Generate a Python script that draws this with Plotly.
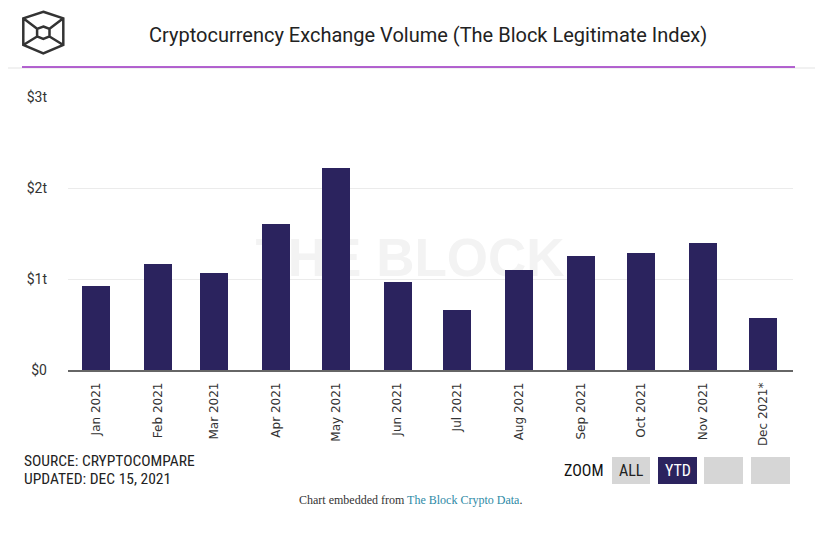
import plotly.graph_objects as go

# ---- data ----
months = ["2021-01-01", "2021-02-01", "2021-03-01", "2021-04-01", "2021-05-01", "2021-06-01",
          "2021-07-01", "2021-08-01", "2021-09-01", "2021-10-01", "2021-11-01", "2021-12-01"]
month_labels = ["Jan 2021", "Feb 2021", "Mar 2021", "Apr 2021", "May 2021", "Jun 2021",
                "Jul 2021", "Aug 2021", "Sep 2021", "Oct 2021", "Nov 2021", "Dec 2021*"]
volume_trillions = [0.92, 1.16, 1.07, 1.60, 2.22, 0.97, 0.66, 1.095, 1.25, 1.29, 1.40, 0.573]
y_tick_vals = [0, 1, 2, 3]
y_tick_text = ["$0", "$1t", "$2t", "$3t"]

OFF = 8  # default page body margin
W, H = 830 - OFF, 535 - OFF
ML, MR, MT, MB = 68 - OFF, 37, 97 - OFF, 165
PW, PH = W - ML - MR, H - MT - MB


def px(x):
    return (x - OFF - ML) / PW


def py(y):
    return 1 - (y - OFF - MT) / PH


fig = go.Figure()
fig.add_trace(go.Bar(
    x=months, y=volume_trillions,
    width=14 * 86400000,
    marker=dict(color="#2b235e", line=dict(width=0)),
    hoverinfo="x+y",
))

shapes = []
# header lines
shapes.append(dict(type="line", xref="paper", yref="paper", x0=px(8), x1=px(815), y0=py(68), y1=py(68),
                   line=dict(color="#e3e3e3", width=1)))
shapes.append(dict(type="line", xref="paper", yref="paper", x0=px(22), x1=px(795), y0=py(67), y1=py(67),
                   line=dict(color="#9a2fc0", width=1.5)))

# logo (cube)
def pt(x, y):
    return f"{px(x):.5f},{py(y):.5f}"

outer = [(43.3, 11.7), (63.3, 18.3), (63.3, 45), (43.3, 53.3), (23.3, 45), (23.3, 18.3)]
inner = [(43.3, 26.5), (49.5, 28.8), (49.5, 36.5), (43.3, 38.8), (37.1, 36.5), (37.1, 28.8)]
path = "M" + " L".join(pt(*p) for p in outer) + " Z"
path += " M" + " L".join(pt(*p) for p in inner) + " Z"
for o, i in [(5, 5), (1, 1), (4, 4), (2, 2)]:
    path += f" M{pt(*outer[o])} L{pt(*inner[i])}"
shapes.append(dict(type="path", xref="paper", yref="paper", path=path,
                   line=dict(color="#333333", width=2.5)))

# watermark
shapes.append(dict(type="rect", xref="paper", yref="paper", x0=px(240), x1=px(580), y0=py(285), y1=py(220),
                   line=dict(width=0), fillcolor="rgba(0,0,0,0)", layer="below",
                   label=dict(text="<b>THE BLOCK</b>", textposition="middle center",
                              font=dict(family="Liberation Sans, Arial, sans-serif", size=53, color="#f3f3f3"))))

# zoom buttons
buttons = [(612, 650, "#d6d6d6"), (658, 697, "#2b235e"), (704, 743, "#d6d6d6"), (751, 790, "#d6d6d6")]
for x0, x1, c in buttons:
    shapes.append(dict(type="rect", xref="paper", yref="paper", x0=px(x0), x1=px(x1), y0=py(484), y1=py(457),
                       line=dict(width=0), fillcolor=c))

cond = "Liberation Sans Narrow, Roboto Condensed, Roboto, sans-serif"
annotations = [
    dict(text="Cryptocurrency Exchange Volume (The Block Legitimate Index)", x=px(428), y=py(35),
         xref="paper", yref="paper", showarrow=False, xanchor="center", yanchor="middle",
         font=dict(family="Roboto, sans-serif", size=20, color="#222222")),
    dict(text="SOURCE: CRYPTOCOMPARE", x=px(22), y=py(461), xref="paper", yref="paper", showarrow=False,
         xanchor="left", yanchor="middle", font=dict(family=cond, size=15.5, color="#222222")),
    dict(text="UPDATED: DEC 15, 2021", x=px(22), y=py(479), xref="paper", yref="paper", showarrow=False,
         xanchor="left", yanchor="middle", font=dict(family=cond, size=15.5, color="#222222")),
    dict(text="ZOOM", x=px(605), y=py(470), xref="paper", yref="paper", showarrow=False,
         xanchor="right", yanchor="middle", font=dict(family=cond, size=16, color="#111111")),
    dict(text="ALL", x=px(631), y=py(470), xref="paper", yref="paper", showarrow=False,
         xanchor="center", yanchor="middle", font=dict(family=cond, size=16, color="#222222")),
    dict(text="YTD", x=px(677.5), y=py(470), xref="paper", yref="paper", showarrow=False,
         xanchor="center", yanchor="middle", font=dict(family=cond, size=16, color="#ffffff")),
    dict(text="Chart embedded from <span style='color:#2e8aa6'>The Block Crypto Data</span>.",
         x=px(410), y=py(500), xref="paper", yref="paper", showarrow=False,
         xanchor="center", yanchor="middle",
         font=dict(family="Liberation Serif, Times New Roman, serif", size=12, color="#333333")),
]

fig.update_layout(
    width=W, height=H,
    margin=dict(l=ML, r=MR, t=MT, b=MB),
    plot_bgcolor="#ffffff", paper_bgcolor="#ffffff",
    showlegend=False,
    shapes=shapes,
    annotations=annotations,
    bargap=0,
)
fig.update_xaxes(
    type="date", range=["2020-12-18", "2021-12-16"],
    tickmode="array", tickvals=months, ticktext=month_labels, tickangle=-90,
    tickfont=dict(family="DejaVu Sans, Verdana, sans-serif", size=12, color="#333333"),
    showgrid=False, showline=True, linecolor="#666666", linewidth=1.5,
    ticks="", ticklabelstandoff=6, fixedrange=True,
)
fig.update_yaxes(
    range=[0, 3], tickmode="array", tickvals=y_tick_vals, ticktext=y_tick_text,
    tickfont=dict(family="Roboto, sans-serif", size=14, color="#333333"),
    showgrid=True, gridcolor="#ebebeb", gridwidth=1, zeroline=False,
    ticks="", ticklabelstandoff=20, fixedrange=True,
)

fig.write_html("out.html")
